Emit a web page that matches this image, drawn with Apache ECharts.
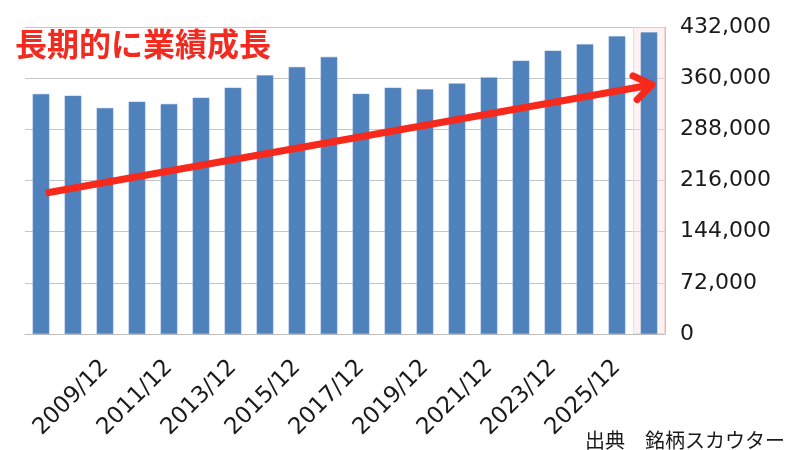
<!DOCTYPE html>
<html>
<head>
<meta charset="utf-8">
<script src="https://cdn.jsdelivr.net/npm/echarts@6/dist/echarts.min.js"></script>
<style>
  html, body { margin: 0; padding: 0; background: #fff; }
  #chart { width: 800px; height: 450px; }
</style>
</head>
<body>
<div id="chart"></div>
<script>
// 決算期
const years = ['2007/12', '2008/12', '2009/12', '2010/12', '2011/12', '2012/12', '2013/12',
  '2014/12', '2015/12', '2016/12', '2017/12', '2018/12', '2019/12', '2020/12', '2021/12',
  '2022/12', '2023/12', '2024/12', '2025/12', '2026/12'];
// 売上高
const sales = [337700, 335300, 318000, 326900, 323600, 332500, 346600, 364000, 375700, 389900,
  338000, 346600, 344300, 352600, 361100, 384600, 398700, 407600, 418900, 424500];
// 予想期の背景（最後の期のみ）
const forecastBand = [null, null, null, null, null, null, null, null, null, null,
  null, null, null, null, null, null, null, null, null, 432000];
// 目盛り
const yMin = 0;
const yMax = 432000;
const yStep = 72000;
// 矢印の始点・終点 [期のインデックス, 値]
const arrowFrom = [0, 198400];
const arrowTo = [19, 350000];

const titleText = '長期的に業績成長';
const sourceText = '出典　銘柄スカウター';

const chart = echarts.init(document.getElementById('chart'), null, { renderer: 'canvas' });

const option = {
  animation: false,
  backgroundColor: '#fff',
  title: [{
    text: titleText,
    left: 10,
    top: 23,
    textStyle: {
      color: '#f22a20',
      fontSize: 32,
      fontWeight: 'bold',
      fontFamily: 'Noto Sans CJK JP'
    }
  }, {
    text: sourceText,
    right: 10,
    top: 425,
    textStyle: {
      color: '#1a1a1a',
      fontSize: 20,
      fontWeight: 'normal',
      fontFamily: 'Noto Sans CJK JP'
    }
  }],
  grid: {
    left: 25,
    right: 135,
    top: 27,
    bottom: 116
  },
  xAxis: [{
    type: 'category',
    data: years,
    axisTick: { show: false },
    axisLine: { lineStyle: { color: '#bdbdbd', width: 1 } },
    axisLabel: {
      rotate: 45,
      margin: 30,
      interval: function (idx) { return idx % 2 === 0 && idx > 0; },
      color: '#1a1a1a',
      fontSize: 23,
      fontFamily: 'DejaVu Sans'
    }
  }, {
    type: 'category',
    data: years,
    show: false
  }],
  yAxis: {
    type: 'value',
    position: 'right',
    min: yMin,
    max: yMax,
    interval: yStep,
    axisLine: { show: true, lineStyle: { color: '#c4c4c4' } },
    axisTick: { show: false },
    splitLine: { lineStyle: { color: '#c6c6c6', width: 1 } },
    axisLabel: {
      margin: 15,
      padding: [3, 0, 0, 0],
      color: '#1a1a1a',
      fontSize: 22,
      fontFamily: 'DejaVu Sans',
      formatter: function (v) { return v.toLocaleString('en-US'); }
    }
  },
  series: [{
    name: '予想',
    type: 'bar',
    xAxisIndex: 1,
    data: forecastBand,
    barWidth: '100%',
    silent: true,
    z: 1,
    itemStyle: {
      color: 'rgba(252, 225, 225, 0.45)',
      borderColor: 'rgba(245, 200, 200, 0.7)',
      borderWidth: 1
    }
  }, {
    name: '売上高',
    type: 'bar',
    xAxisIndex: 0,
    data: sales,
    barWidth: '52%',
    z: 2,
    itemStyle: {
      color: '#4f81bd',
      borderColor: '#6f98c9',
      borderWidth: 0.5
    }
  }]
};

chart.setOption(option);

// 矢印（軸のスケールから位置を求める）
const p0 = chart.convertToPixel({ xAxisIndex: 0, yAxisIndex: 0 }, arrowFrom);
const p1 = chart.convertToPixel({ xAxisIndex: 0, yAxisIndex: 0 }, arrowTo);
const ang = Math.atan2(p1[1] - p0[1], p1[0] - p0[0]);
const armLen = 21;
const spread = 35 * Math.PI / 180;
const tip = [p1[0] + 3, p1[1] - 0.5];
function arm(sign) {
  const a = ang + Math.PI + sign * spread;
  return [tip[0] + armLen * Math.cos(a), tip[1] + armLen * Math.sin(a)];
}
const red = '#f7281c';
chart.setOption({
  graphic: [{
    type: 'polyline',
    z: 100,
    shape: { points: [[p0[0] + 5, p0[1]], tip] },
    style: { stroke: red, lineWidth: 7, lineCap: 'butt', fill: null }
  }, {
    type: 'polyline',
    z: 100,
    shape: { points: [arm(1), tip, arm(-1)] },
    style: { stroke: red, lineWidth: 7, lineCap: 'round', lineJoin: 'round', fill: null }
  }]
});
</script>
</body>
</html>
